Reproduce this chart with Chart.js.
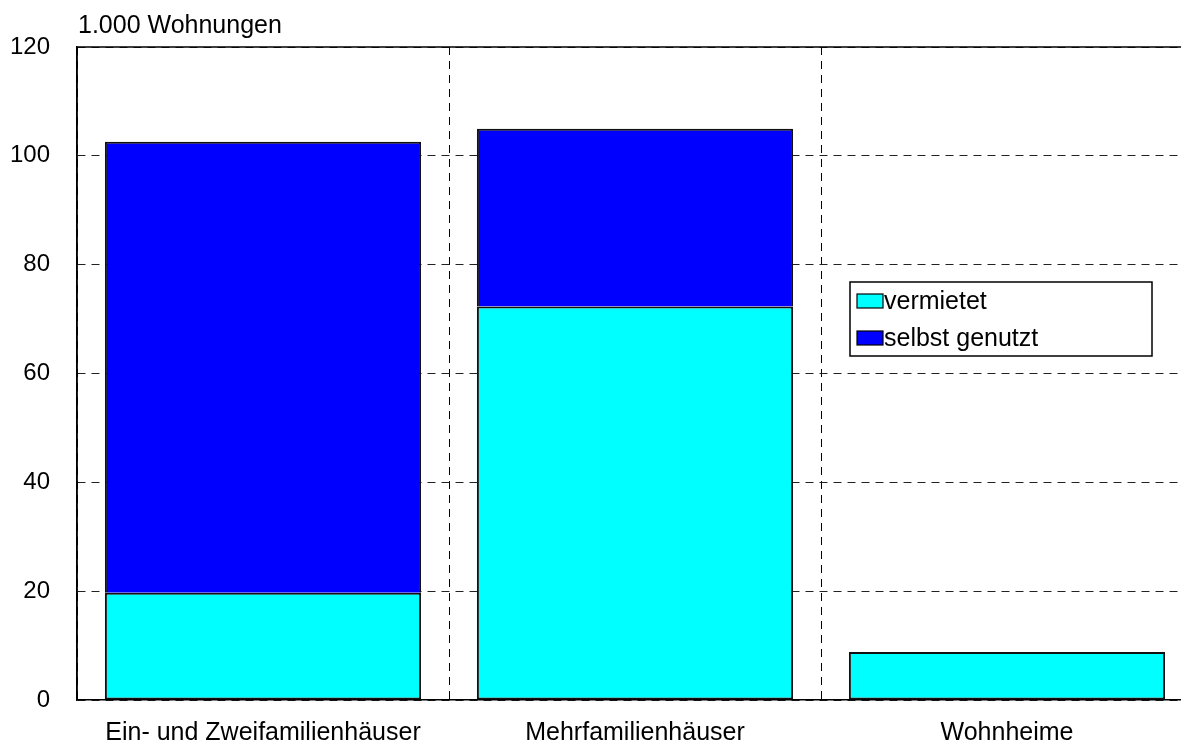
<!DOCTYPE html>
<html lang="de">
<head>
<meta charset="utf-8">
<title>Wohnungen nach Gebäudeart</title>
<script src="https://cdn.jsdelivr.net/npm/chart.js@4/dist/chart.umd.min.js"></script>
<style>
  html, body { margin: 0; padding: 0; background: #fff; overflow: hidden; }
  #grafico { display: block; }
</style>
</head>
<body>
<canvas id="grafico" width="1200" height="743"></canvas>
<script>
// Wohnungen in 1.000, gestapelt nach Nutzung
const kategorien = ['Ein- und Zweifamilienhäuser', 'Mehrfamilienhäuser', 'Wohnheime'];
const vermietet = [19.7, 72.3, 8.8];
const selbstGenutzt = [82.9, 32.7, null];
const yTicks = [0, 20, 40, 60, 80, 100, 120];
const einheit = '1.000 Wohnungen';

const schrift = 'Liberation Sans, Arial, sans-serif';

// Rahmenlinie oben, Einheit über der y-Achse und die Legende im Diagramm
const extras = {
    id: 'extras',
    afterDraw(chart) {
        const ctx = chart.ctx;
        const area = chart.chartArea;
        ctx.save();
        ctx.strokeStyle = '#000';
        ctx.lineWidth = 1.5;
        ctx.beginPath();
        ctx.moveTo(area.left, area.top);
        ctx.lineTo(area.right, area.top);
        ctx.moveTo(area.left, area.top);
        ctx.lineTo(area.left, area.bottom);
        ctx.stroke();

        ctx.fillStyle = '#000';
        ctx.font = '25px ' + schrift;
        ctx.textAlign = 'left';
        ctx.textBaseline = 'middle';
        ctx.fillText(einheit, area.left + 1, 26);

        // Legende
        const lx = 850, ly = 282, lw = 302, lh = 74;
        ctx.fillStyle = '#fff';
        ctx.fillRect(lx, ly, lw, lh);
        ctx.lineWidth = 1.5;
        ctx.strokeStyle = '#000';
        ctx.strokeRect(lx, ly, lw, lh);
        chart.data.datasets.forEach((ds, i) => {
            const cy = ly + 19 + i * 37;
            ctx.fillStyle = ds.backgroundColor;
            ctx.fillRect(lx + 7, cy - 7, 26, 14);
            ctx.lineWidth = 1.2;
            ctx.strokeRect(lx + 7, cy - 7, 26, 14);
            ctx.fillStyle = '#000';
            ctx.font = '25px ' + schrift;
            ctx.fillText(ds.label, lx + 34, cy + 1);
        });
        ctx.restore();
    }
};

const grafico = new Chart(document.getElementById('grafico').getContext('2d'), {
    type: 'bar',
    data: {
        labels: kategorien,
        datasets: [{
            label: 'vermietet',
            data: vermietet,
            backgroundColor: '#00ffff',
            borderColor: '#111',
            borderWidth: 2,
            borderSkipped: false,
            categoryPercentage: 1,
            barPercentage: 0.85
        }, {
            label: 'selbst genutzt',
            data: selbstGenutzt,
            backgroundColor: '#0000ff',
            borderColor: '#111',
            borderWidth: 2,
            // untere Kante übernimmt der vermietet-Balken darunter
            borderSkipped: 'start',
            categoryPercentage: 1,
            barPercentage: 0.85
        }]
    },
    options: {
        responsive: false,
        animation: false,
        devicePixelRatio: 1,
        layout: { padding: { top: 47, right: 7, left: 0, bottom: 0 } },
        plugins: {
            legend: { display: false },
            tooltip: { enabled: false }
        },
        scales: {
            x: {
                stacked: true,
                afterFit(scale) { scale.height = 43; },
                grid: {
                    display: true,
                    offset: true,
                    color: '#000',
                    lineWidth: 1,
                    drawTicks: false
                },
                border: { display: true, color: '#000', width: 1.5, dash: [8, 6] },
                ticks: {
                    color: '#000',
                    padding: 18,
                    font: { family: schrift, size: 25 }
                }
            },
            y: {
                stacked: true,
                min: 0,
                max: 120,
                afterFit(scale) { scale.width = 77; },
                afterBuildTicks(scale) { scale.ticks = yTicks.map(v => ({ value: v })); },
                grid: {
                    color: '#222',
                    lineWidth: 1,
                    drawTicks: false
                },
                border: { display: true, color: '#000', width: 1.5, dash: [8, 6] },
                ticks: {
                    color: '#000',
                    padding: 27,
                    font: { family: schrift, size: 24 }
                }
            }
        }
    },
    plugins: [extras]
});
</script>
</body>
</html>
